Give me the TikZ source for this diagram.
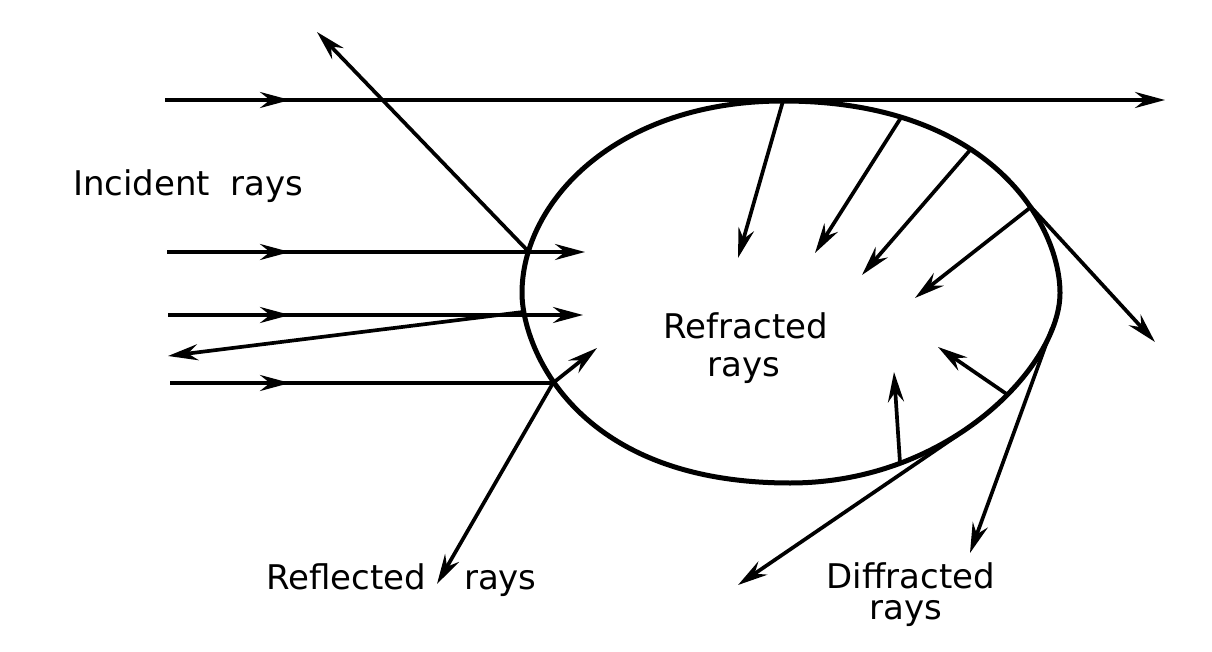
\documentclass[tikz,border=0pt]{standalone}
\usepackage{fontspec}
\setmainfont{DejaVu Sans}
\usetikzlibrary{arrows.meta,decorations.markings}
\tikzset{
  >={Stealth[length=30pt,width=16pt,inset=10pt]},
  ray/.style={line width=3.7pt,->},
  plainray/.style={line width=3.7pt},
  body/.style={line width=5pt},
  midarrow/.style={postaction={decorate},decoration={markings,mark=at position #1 with {\arrow{>}}}},
  lbl/.style={font=\fontsize{34}{38}\selectfont, inner sep=0pt, anchor=base}
}
\begin{document}
\begin{tikzpicture}[x=1pt,y=-1pt]
\useasboundingbox (0,0) rectangle (1212,652);
% body
\draw[body] (783,101) .. controls (992,101) and (1060,226) .. (1060,293)
  .. controls (1060,365) and (950,483) .. (790,483)
  .. controls (574,483) and (522,346) .. (522,293)
  .. controls (522,202) and (616,101) .. (783,101) -- cycle;
% named points
\coordinate (a0) at (165,100);  \coordinate (a1) at (1165,100);
\coordinate (b0) at (167,252);  \coordinate (b1) at (585,252);
\coordinate (c0) at (168,315);  \coordinate (c1) at (583,315);
\coordinate (d0) at (170,383);  \coordinate (d1) at (553,383);
\coordinate (hb) at (528,251);  \coordinate (rb) at (317,32);
\coordinate (hc) at (523,312);  \coordinate (rc) at (168,356);
\coordinate (rd) at (437,584);  \coordinate (td) at (597,348);
\coordinate (p1) at (783,101);  \coordinate (q1) at (738,258);
\coordinate (p2) at (902,116);  \coordinate (q2) at (815,253);
\coordinate (p3) at (971,149);  \coordinate (q3) at (862,275);
\coordinate (p4) at (1031,207); \coordinate (q4) at (915,298);
\coordinate (gt) at (1155,342);
\coordinate (p5) at (1008,395); \coordinate (q5) at (938,347);
\coordinate (p6) at (900,463);  \coordinate (q6) at (894,372);
\coordinate (s1) at (958,435);  \coordinate (e1) at (738,585);
\coordinate (s2) at (1052,328); \coordinate (e2) at (970,553);
% incident rays
\draw[ray,midarrow=125pt] (a0) -- (a1);
\draw[ray,midarrow=123pt] (b0) -- (b1);
\draw[ray,midarrow=122pt] (c0) -- (c1);
\draw[plainray,midarrow=120pt] (d0) -- (d1);
% reflected rays
\draw[ray] (hb) -- (rb);
\draw[ray] (hc) -- (rc);
\draw[ray] (d1) -- (rd);
% refracted rays
\draw[ray] (d1) -- (td);
\draw[ray] (p1) -- (q1);
\draw[ray] (p2) -- (q2);
\draw[ray] (p3) -- (q3);
\draw[ray] (p4) -- (q4);
\draw[ray] (p5) -- (q5);
\draw[ray] (p6) -- (q6);
% diffracted rays
\draw[ray] (p4) -- (gt);
\draw[ray] (s1) -- (e1);
\draw[ray] (s2) -- (e2);
% labels
\node[lbl,anchor=base west] (inc) at (73,196) {Incident\hspace{20pt}rays};
\node[lbl] (refr1) at (746,338) {Refracted};
\node[lbl] (refr2) at (744,376) {rays};
\node[lbl,anchor=base west] (refl) at (266,589) {Reflected\hspace{38pt}rays};
\node[lbl] (dif1) at (911,588) {Diffracted};
\node[lbl] (dif2) at (906,619) {rays};
\end{tikzpicture}
\end{document}
